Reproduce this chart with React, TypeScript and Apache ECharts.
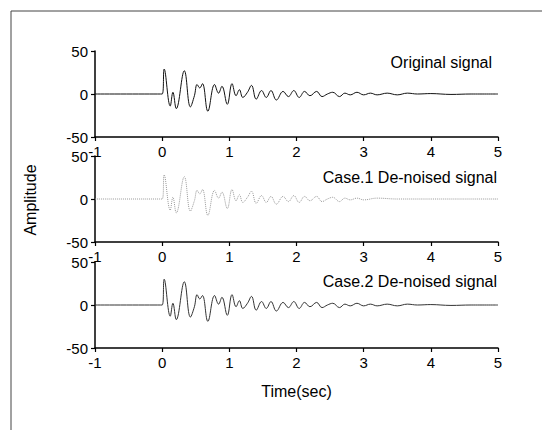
import React, { useEffect, useRef } from "react";
import * as echarts from "echarts";

const xTicks = [-1, 0, 1, 2, 3, 4, 5];
const yTicks = [-50, 0, 50];
const panelTitles = ["Original signal", "Case.1 De-noised signal", "Case.2 De-noised signal"];

const origT = [-1, 0, 0.03, 0.12, 0.16, 0.21, 0.33, 0.42, 0.48, 0.52, 0.56, 0.6, 0.68, 0.78, 0.84, 0.89, 0.97, 1.04, 1.1, 1.15, 1.2, 1.27, 1.33, 1.4, 1.48, 1.55, 1.62, 1.7, 1.8, 1.88, 1.96, 2.04, 2.12, 2.2, 2.3, 2.38, 2.46, 2.54, 2.64, 2.72, 2.8, 2.9, 3.0, 3.1, 3.2, 3.35, 3.5, 3.65, 3.8, 4.0, 4.3, 4.6, 5];
const origV = [0, 0, 29, -14, 2, -17, 27, -15, -2, 11, 7, 12, -20, 11, 1, 9, -12, 12, -2, 5, -4, 2, 10, -6, 4, -4, 4, -7, 3, -3, 4, -4, 3, -2, 3, -3, 0, 2, -3, 1, -1, 2, -1, 1, -1, 1, -1, 1, 0, 0.5, -0.5, 0, 0];

const case1T = [-1, 0, 0.03, 0.12, 0.16, 0.21, 0.33, 0.42, 0.48, 0.52, 0.56, 0.6, 0.68, 0.78, 0.84, 0.89, 0.97, 1.04, 1.1, 1.15, 1.2, 1.27, 1.33, 1.4, 1.48, 1.55, 1.62, 1.7, 1.8, 1.88, 1.96, 2.04, 2.12, 2.2, 2.3, 2.38, 2.46, 2.54, 2.64, 2.72, 2.8, 2.9, 3.0, 3.2, 3.5, 4.0, 4.5, 5];
const case1V = [0, 0, 28, -13, 2, -16, 26, -14, -2, 10, 6, 11, -19, 10, 1, 8, -11, 11, -2, 5, -4, 2, 9, -5, 4, -4, 3, -6, 3, -3, 4, -4, 3, -2, 3, -3, 0, 2, -3, 1, -1, 1, -1, 1, 0, 0, 0, 0];

const case2T = [-1, 0, 0.03, 0.12, 0.16, 0.21, 0.33, 0.42, 0.48, 0.52, 0.56, 0.6, 0.68, 0.78, 0.84, 0.89, 0.97, 1.04, 1.1, 1.15, 1.2, 1.27, 1.33, 1.4, 1.48, 1.55, 1.62, 1.7, 1.8, 1.88, 1.96, 2.04, 2.12, 2.2, 2.3, 2.38, 2.46, 2.54, 2.64, 2.72, 2.8, 2.9, 3.0, 3.1, 3.2, 3.35, 3.5, 3.65, 3.8, 4.0, 4.3, 4.6, 5];
const case2V = [0, 0, 30, -13, 2, -17, 27, -14, -2, 12, 7, 11, -19, 11, 1, 9, -12, 12, -2, 5, -4, 2, 10, -6, 4, -4, 4, -7, 3, -3, 4, -4, 3, -2, 3, -3, 0, 2, -3, 1, -1, 2, -1, 1, -1, 1, -1, 1, 0, 0.5, -0.5, 0, 0];

const pair = (t: number[], v: number[]) => t.map((x, i) => [x, v[i]]);

export default function App() {
  const ref = useRef<HTMLDivElement>(null);
  useEffect(() => {
    if (!ref.current) return;
    const chart = echarts.init(ref.current, null, { renderer: "svg" });
    const tops = [51, 156, 262];
    const titleTops = [54, 169, 273];
    const font = "Liberation Sans, Arial, sans-serif";
    const grids = tops.map((top) => ({ left: 95, right: 44, top, height: 86 }));
    const xAxes = tops.map((_, i) => ({
      type: "value",
      gridIndex: i,
      min: xTicks[0],
      max: xTicks[xTicks.length - 1],
      interval: 1,
      axisLine: { onZero: false, lineStyle: { color: "#000", width: 1.5 } },
      axisTick: { show: true, length: 4, lineStyle: { color: "#000", width: 1.2 } },
      axisLabel: { color: "#000", fontSize: 15, fontFamily: font, margin: 7 },
      splitLine: { show: false },
      name: i === 2 ? "Time(sec)" : "",
      nameLocation: "middle",
      nameGap: 35,
      nameTextStyle: { color: "#000", fontSize: 16, fontFamily: font },
    }));
    const yAxes = tops.map((_, i) => ({
      type: "value",
      gridIndex: i,
      min: yTicks[0],
      max: yTicks[yTicks.length - 1],
      interval: 50,
      axisLine: { show: true, onZero: false, lineStyle: { color: "#000", width: 1.5 } },
      axisTick: { show: true, length: 4, lineStyle: { color: "#000", width: 1.2 } },
      axisLabel: { color: "#000", fontSize: 15, fontFamily: font, margin: 7 },
      splitLine: { show: false },
    }));
    const seriesData = [pair(origT, origV), pair(case1T, case1V), pair(case2T, case2V)];
    const styles = [
      { color: "#111", width: 1, type: "solid" },
      { color: "#999", width: 1, type: "dotted" },
      { color: "#333", width: 1, type: "solid" },
    ];
    chart.setOption({
      animation: false,
      backgroundColor: "#fff",
      grid: grids,
      xAxis: xAxes,
      yAxis: yAxes,
      series: seriesData.map((d, i) => ({
        type: "line",
        xAxisIndex: i,
        yAxisIndex: i,
        data: d,
        smooth: 0.4,
        showSymbol: false,
        symbol: "none",
        lineStyle: styles[i],
      })),
      graphic: [
        { type: "line", shape: { x1: 11, y1: 11, x2: 542, y2: 11 }, style: { stroke: "#444", lineWidth: 1 } },
        { type: "line", shape: { x1: 11, y1: 11, x2: 11, y2: 430 }, style: { stroke: "#444", lineWidth: 1 } },
        ...panelTitles.map((t, i) => ({
          type: "text",
          right: i === 0 ? 50 : 45,
          top: titleTops[i],
          style: { text: t, font: `16px ${font}`, fill: "#000" },
        })),
        {
          type: "text",
          x: 30,
          y: 200,
          rotation: Math.PI / 2,
          style: { text: "Amplitude", font: `16px ${font}`, fill: "#000", align: "center", verticalAlign: "middle" },
        },
      ],
    });
    return () => chart.dispose();
  }, []);
  return <div ref={ref} style={{ position: "fixed", left: 0, top: 0, width: 542, height: 430 }} />;
}
